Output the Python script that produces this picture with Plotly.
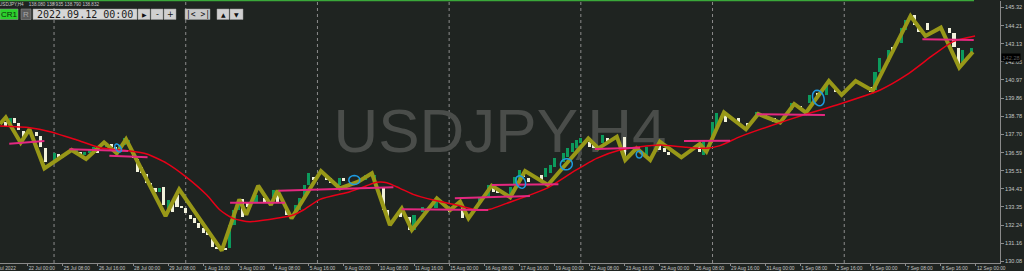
import math
import plotly.graph_objects as go

# ---------------- data ----------------
# time-axis labels, one every 8 H4 bars, starting at bar 0 = 22 Jul 00:00
time_labels = ["22 Jul 00:00", "25 Jul 08:00", "26 Jul 16:00", "28 Jul 00:00", "29 Jul 08:00",
               "1 Aug 16:00", "3 Aug 00:00", "4 Aug 08:00", "5 Aug 16:00", "9 Aug 00:00",
               "10 Aug 08:00", "11 Aug 16:00", "15 Aug 00:00", "16 Aug 08:00", "17 Aug 16:00",
               "19 Aug 00:00", "22 Aug 08:00", "23 Aug 16:00", "25 Aug 00:00", "26 Aug 08:00",
               "29 Aug 16:00", "31 Aug 00:00", "1 Sep 08:00", "2 Sep 16:00", "6 Sep 00:00",
               "7 Sep 08:00", "8 Sep 16:00", "12 Sep 00:00"]
label_step = 8
first_label = "21 Jul 2022"
price_levels = [145.32, 144.21, 143.13, 142.05, 140.97, 139.86, 138.78, 137.70,
                136.59, 135.51, 134.43, 133.35, 132.24, 131.16, 130.08]
week_start_bars = [6, 36, 66, 96, 126, 156, 186]

# zigzag line (bar index, price)
zz_bar = [-6.3, -5.0, -1.6, 0.4, 3.8, 10.0, 13.3, 17.4, 20.3, 22.4, 31.4, 34.5, 44.2, 48.2, 49.8,
          52.5, 55.4, 56.9, 60.1, 66.8, 71.1, 75.3, 78.4, 82.5, 85.2, 87.5, 93.2, 96.2, 98.5,
          100.4, 105.7, 109.9, 113.3, 118.5, 127.7, 130.0, 134.2, 136.1, 138.7, 141.8, 144.0,
          148.9, 153.1, 154.6, 158.6, 163.6, 166.4, 171.4, 174.6, 177.3, 182.5, 185.4, 188.6,
          192.5, 201.1, 204.5, 208.0, 212.2, 215.3]
zz_price = [138.32, 138.72, 137.20, 138.00, 135.66, 136.76, 136.22, 137.22, 136.56, 137.40,
            132.80, 134.40, 130.72, 133.80, 132.88, 134.62, 133.46, 134.32, 132.66, 135.50,
            134.46, 134.86, 135.36, 132.26, 133.26, 131.96, 133.86, 133.16, 133.66, 132.66,
            134.62, 133.92, 135.50, 134.66, 137.46, 136.86, 137.56, 136.16, 136.86, 136.16,
            137.26, 136.32, 137.12, 136.66, 139.01, 138.00, 138.92, 138.40, 139.52, 139.00,
            140.90, 140.06, 140.90, 140.32, 144.80, 143.60, 144.10, 141.70, 142.64]

# moving average (bar index, price)
ma_bar = [-6.3, 0.5, 5.1, 11.2, 16.5, 22.6, 27.1, 31.7, 36.2, 40.8, 43.8, 46.8, 50.6, 56.7,
          60.5, 62.8, 66.6, 73.4, 77.2, 79.5, 81.8, 84.8, 87.8, 92.4, 97.7, 102.3, 105.3,
          109.1, 118.2, 124.3, 129.6, 134.9, 139.5, 144.0, 150.1, 154.7, 157.7, 162.3, 169.1,
          176.7, 184.3, 194.2, 200.2, 206.3, 210.8, 215.8]
ma_price = [138.20, 138.10, 137.86, 137.36, 136.90, 136.72, 136.52, 135.96, 135.12, 134.06,
            133.16, 132.66, 132.46, 132.66, 132.86, 133.16, 133.80, 134.26, 134.62, 134.82,
            134.80, 134.46, 134.10, 133.76, 133.46, 133.16, 133.20, 133.56, 134.46, 135.46,
            136.26, 136.76, 136.96, 137.06, 136.92, 136.86, 137.02, 137.56, 138.20, 138.86,
            139.46, 140.36, 141.26, 142.46, 143.26, 143.60]

# candles (bar index, open, close)
cdl_bar = [-5, -4, -3, -2, -1, 2, 3, 4, 6, 7, 8, 11, 12, 13, 14, 15, 16, 18, 19, 20, 21, 22, 23,
           24, 25, 26, 27, 28, 29, 30, 31, 32, 33, 34, 35, 36, 37, 38, 39, 40, 41, 42, 43, 44,
           45, 46, 47, 48, 49, 50,
           52, 54, 56, 57, 59, 61, 62, 63, 64, 65, 68, 69, 71, 72, 77, 79, 81, 82, 85, 87, 88,
           90, 93, 96, 99, 103, 105, 106, 107, 110, 111, 112, 113, 114, 117, 118, 119, 120,
           122, 123, 124, 125, 126, 128, 129, 131, 132, 136, 141, 144, 145, 146, 153, 154,
           156, 157, 159, 162, 164, 166, 168, 170, 174, 176, 178, 180, 182, 184, 192, 193,
           194, 196, 197, 199, 200, 202, 203, 205, 210, 211, 212, 213, 215]
cdl_open = [138.46, 138.26, 138.66, 138.36, 137.92, 137.86, 137.62, 136.86, 135.96, 136.52,
            136.26, 136.56, 136.62, 136.46, 136.56, 136.76, 136.76, 136.96, 137.06, 136.96,
            136.80, 137.06, 137.16, 136.66, 136.20, 135.76, 135.32, 134.76, 134.46, 134.26,
            134.52, 133.06, 133.56, 134.06, 133.36, 133.26, 132.86, 132.66, 132.36, 132.10,
            131.86, 131.60, 130.96, 130.90, 130.88, 130.86, 132.26, 133.16, 133.80, 133.56,
            133.66, 133.86, 133.96, 134.36, 133.16, 132.98, 133.16, 133.96, 134.66, 135.16,
            135.26, 135.06, 134.66, 135.06, 134.96, 134.86, 134.56, 133.16, 133.16, 132.76,
            131.96, 133.06, 133.26, 133.26, 133.26, 133.56, 133.96, 134.56, 134.36, 133.96,
            134.66, 134.96, 135.46, 135.06, 135.26, 135.16, 135.36, 135.76, 136.06, 136.36,
            136.66, 136.86, 137.16, 137.26, 137.06, 137.16, 137.46, 137.56, 136.46, 137.06,
            136.86, 136.66, 137.06, 136.46, 137.46, 138.16, 138.86, 138.66, 138.36, 138.76,
            138.86, 138.66, 139.16, 139.40, 139.56, 140.16, 140.06, 140.56, 140.56, 140.36,
            141.46, 142.06, 142.96, 143.16, 143.96, 144.86, 144.26, 144.36, 144.06, 143.76,
            142.86, 142.06, 142.46]
cdl_close = [138.20, 138.66, 138.40, 137.96, 137.46, 137.60, 136.96, 136.06, 136.56, 136.20,
             136.46, 136.76, 136.40, 136.66, 136.76, 136.96, 136.56, 137.16, 136.96, 136.80,
             137.06, 137.46, 137.36, 136.26, 135.46, 135.36, 134.76, 134.52, 134.26, 134.50,
             133.46, 133.76, 133.06, 133.32, 133.26, 132.96, 132.60, 132.36, 132.06, 131.80,
             131.66, 130.96, 130.80, 130.76, 130.80, 132.26, 133.16, 133.76, 132.72, 133.36,
             134.06, 133.66, 134.36, 133.56, 132.86, 133.46, 133.88, 134.66, 135.36, 134.96,
             134.96, 134.76, 135.06, 134.90, 135.26, 135.26, 133.16, 132.66, 132.76, 131.96,
             132.86, 133.36, 133.66, 133.06, 132.66, 133.96, 134.66, 134.26, 134.16, 134.56,
             135.16, 135.56, 135.16, 134.86, 134.96, 135.66, 135.86, 136.26, 136.56, 136.86,
             137.16, 137.36, 137.46, 136.96, 136.86, 137.66, 137.26, 136.26, 136.96, 136.76,
             136.66, 136.46, 136.66, 137.36, 138.46, 138.96, 138.46, 138.46, 138.16, 139.06,
             138.66, 138.46, 139.56, 139.16, 140.06, 139.96, 140.66, 140.26, 140.26, 141.46,
             142.26, 142.76, 142.76, 144.06, 144.56, 144.26, 143.86, 143.96, 143.76, 142.96,
             141.76, 142.76, 142.86]

# horizontal level segments (start bar, end bar, start price, end price)
lvl_bar0 = [-4.2, 9.5, 18.6, 46.1, 57.1, 85.2, 97.3, 105.7, 129.2, 149.5, 166.1, 203.8]
lvl_bar1 = [3.8, 22.9, 27.3, 58.6, 83.3, 104.9, 114.4, 120.9, 139.5, 160.0, 181.6, 215.5]
lvl_p0 = [137.14, 136.80, 136.42, 133.60, 134.32, 133.20, 133.86, 134.66, 136.82, 137.30, 138.90, 143.40]
lvl_p1 = [137.30, 136.70, 136.32, 133.60, 134.52, 133.16, 134.00, 134.70, 136.90, 137.32, 138.86, 143.36]

# marked spots (ellipses)
mark_bar = [20.6, 74.4, 112.3, 122.7, 139.3, 180.1]
mark_price = [136.88, 134.96, 134.84, 135.90, 136.49, 139.88]

bid_price = 142.28
header_values = "138.080 138.935 138.790 138.832"

# ---------------- styling ----------------
W, H = 1024, 271
ML, MR, MT, MB = 0, 24, 1, 8
PW, PH = W - ML - MR, H - MT - MB
X_RANGE = [-6.31, 221.48]
Y_RANGE = [129.981, 145.698]
BG = "#1f2421"
AXIS_COL = "#8a8a8a"
TXT_COL = "#c4c4c4"
mark_style = [(5, 9, 35), (11, 9, 0), (9, 13, 25), (12, 11, 20), (6, 7, 0), (11, 16, 20)]

fig = go.Figure()

# zigzag
fig.add_trace(go.Scatter(x=zz_bar, y=zz_price, mode="lines",
                         line=dict(color="rgb(152,152,24)", width=4), hoverinfo="skip"))

# candle bodies
bull, bear = "#0c9a5c", "#f2f2dc"
fig.add_trace(go.Bar(x=cdl_bar, base=cdl_open,
                     y=[c - o for o, c in zip(cdl_open, cdl_close)],
                     width=0.7,
                     marker=dict(color=[bull if c >= o else bear for o, c in zip(cdl_open, cdl_close)],
                                 line=dict(width=0)),
                     hoverinfo="skip"))

# moving average
fig.add_trace(go.Scatter(x=ma_bar, y=ma_price, mode="lines",
                         line=dict(color="rgb(232,0,24)", width=1.5, shape="spline", smoothing=0.6),
                         hoverinfo="skip"))

# level segments
lx, ly = [], []
for a, b, p, q in zip(lvl_bar0, lvl_bar1, lvl_p0, lvl_p1):
    lx += [a, b, None]
    ly += [p, q, None]
fig.add_trace(go.Scatter(x=lx, y=ly, mode="lines",
                         line=dict(color="rgb(228,40,128)", width=2), hoverinfo="skip"))

shapes = []
# weekly dotted grid lines
for wb in week_start_bars:
    shapes.append(dict(type="line", xref="x", yref="paper", x0=wb, x1=wb, y0=0, y1=1,
                       line=dict(color="#8c8c8c", width=1, dash="dot"), layer="below"))

# ellipses
for bx, bp, (w, h, ang) in zip(mark_bar, mark_price, mark_style):
    a = math.radians(ang)
    pts = []
    for k in range(24):
        t = 2 * math.pi * k / 24
        ex, ey = w / 2 * math.cos(t), h / 2 * math.sin(t)
        pts.append((ex * math.cos(a) - ey * math.sin(a), ex * math.sin(a) + ey * math.cos(a)))
    path = "M " + " L ".join(f"{x:.2f},{y:.2f}" for x, y in pts) + " Z"
    shapes.append(dict(type="path", xref="x", yref="y", xsizemode="pixel", ysizemode="pixel",
                       xanchor=bx, yanchor=bp, path=path,
                       line=dict(color="#1e9be0", width=1.5)))

def pxx(px):
    return (px - ML) / PW

def pxy(py):
    return (MT + PH - py) / PH

# watermark
shapes.append(dict(type="rect", xref="paper", yref="paper", x0=pxx(300), x1=pxx(700),
                   y0=pxy(154), y1=pxy(94), line=dict(width=0), fillcolor="rgba(0,0,0,0)",
                   layer="below",
                   label=dict(text="USDJPY,H4", textposition="middle center",
                              font=dict(family="Liberation Sans", size=62, color="#4a4d4a"))))

# top green border
shapes.append(dict(type="line", xref="paper", yref="paper", x0=0, x1=pxx(974),
                   y0=pxy(0.6), y1=pxy(0.6), line=dict(color="#3aa83a", width=1.5)))

annotations = []
# header buttons
buttons = [  # (x0, x1, text, fill, textcolor, font, size)
    (0, 18, "CR1", "#2bd02b", "#0c2a0c", "Liberation Sans", 8),
    (21, 31, "R", "#5c5c5c", "#a8a8a8", "Liberation Sans", 8),
    (33, 137, "2022.09.12 00:00", "#d6d6d6", "#1a1a1a", "DejaVu Sans Mono", 10),
    (138, 150, "▶", "#d0d0d0", "#111111", "DejaVu Sans", 6),
    (151, 163, "-", "#d0d0d0", "#111111", "DejaVu Sans", 8),
    (164, 176, "+", "#d0d0d0", "#111111", "DejaVu Sans", 8),
    (185, 210, "|< >|", "#c8c8c8", "#111111", "DejaVu Sans Mono", 8),
    (217, 229, "▲", "#d0d0d0", "#111111", "DejaVu Sans", 6),
    (230, 243, "▼", "#d0d0d0", "#111111", "DejaVu Sans", 6),
]
for x0, x1, txt, fill, tc, fam, sz in buttons:
    shapes.append(dict(type="rect", xref="paper", yref="paper", x0=pxx(x0), x1=pxx(x1),
                       y0=pxy(19.5), y1=pxy(9), fillcolor=fill,
                       line=dict(color="#9a9a9a", width=0.5)))
    annotations.append(dict(xref="paper", yref="paper", x=pxx((x0 + x1) / 2), y=pxy(14.3),
                            text=txt, showarrow=False, xanchor="center", yanchor="middle",
                            font=dict(family=fam, size=sz, color=tc)))

annotations.append(dict(xref="paper", yref="paper", x=pxx(-3), y=pxy(0.5), xanchor="left",
                        yanchor="top", showarrow=False,
                        text="USDJPY,H4" + "\u00a0" * 4 + header_values,
                        font=dict(family="Liberation Sans", size=4.6, color="#c8c8c8")))

# first (clipped) date label
annotations.append(dict(xref="paper", yref="paper", x=pxx(18), y=pxy(264), xanchor="right",
                        yanchor="top", showarrow=False, text=first_label,
                        font=dict(family="Liberation Sans", size=4.8, color=TXT_COL)))

# bid price label
annotations.append(dict(xref="paper", yref="y", x=1.0006, y=bid_price, xanchor="left",
                        yanchor="middle", showarrow=False, text=f"{bid_price:.2f}",
                        bgcolor="#000000", borderpad=0.5,
                        font=dict(family="Liberation Sans", size=5.6, color="#5a5a5a")))

fig.update_layout(
    width=W, height=H, margin=dict(l=ML, r=MR, t=MT, b=MB),
    paper_bgcolor=BG, plot_bgcolor=BG, template="none", showlegend=False,
    barmode="overlay", bargap=0,
    shapes=shapes, annotations=annotations,
    xaxis=dict(range=X_RANGE, showgrid=False, zeroline=False, showline=True,
               linecolor=AXIS_COL, linewidth=1,
               tickvals=[i * label_step for i in range(len(time_labels))],
               ticktext=time_labels, ticks="outside", ticklen=2, tickcolor=AXIS_COL,
               tickangle=0,
               ticklabelposition="outside right", ticklabelstandoff=0,
               tickfont=dict(family="Liberation Sans", size=4.8, color=TXT_COL),
               fixedrange=True),
    yaxis=dict(range=Y_RANGE, side="right", showgrid=False, zeroline=False, showline=True,
               linecolor=AXIS_COL, linewidth=1, tickvals=price_levels,
               ticktext=[f"{v:.2f}" for v in price_levels], ticks="outside", ticklen=3,
               tickcolor=AXIS_COL,
               tickfont=dict(family="Liberation Sans", size=5.6, color=TXT_COL),
               fixedrange=True),
)

fig.write_html("out.html")
